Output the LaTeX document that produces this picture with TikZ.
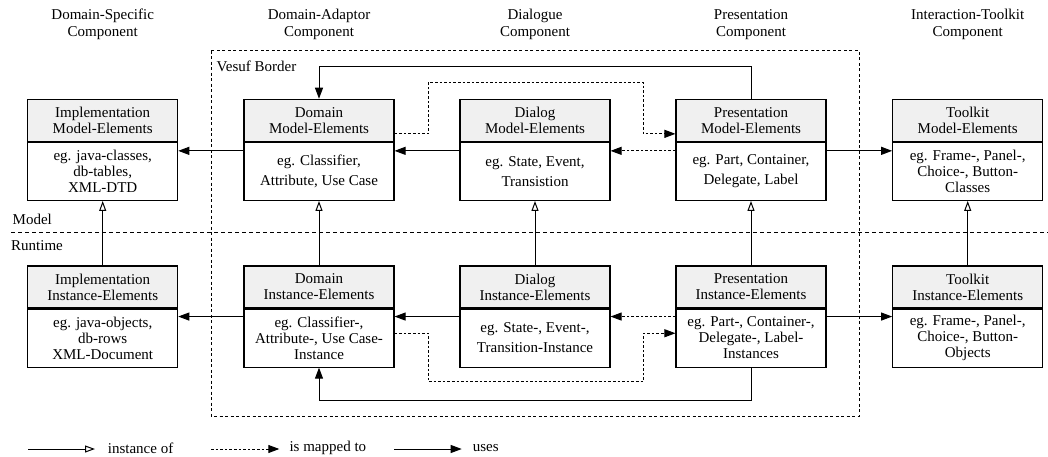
\documentclass[tikz,border=0pt]{standalone}
\usepackage{fontspec}
\setmainfont{Liberation Serif}
\usetikzlibrary{arrows.meta,calc}
\newcommand\fthree{\fontsize{15}{16}\selectfont}
\newcommand\ftwo{\fontsize{15}{20}\selectfont}
\begin{document}
\begin{tikzpicture}[x=1pt,y=-1pt,
  hdr/.style={draw,line width=1.1pt,fill=gray!12,minimum width=150pt,minimum height=42pt,inner sep=0pt,align=center,font=\fthree},
  bdy/.style={draw,line width=1.1pt,fill=white,minimum width=150pt,minimum height=58pt,inner sep=0pt,align=center,anchor=north,font=\fthree},
  bdytwo/.style={bdy,font=\ftwo},
  lbl/.style={inner sep=0pt,font=\fthree},
  colhd/.style={inner sep=0pt,align=center,font={\fontsize{15}{17}\selectfont}},
  uses/.style={line width=1pt,-{Triangle[length=11pt,width=8pt]}},
  inst/.style={line width=1pt,-{Triangle[open,length=10pt,width=7pt,line width=1pt]}},
  mapto/.style={line width=1pt,dash pattern=on 2.6pt off 2pt,-{Triangle[length=11pt,width=8pt]}},
  sepline/.style={line width=1pt,dash pattern=on 4pt off 3pt},
  border/.style={line width=1pt,dash pattern=on 3pt off 2.5pt}
]
\useasboundingbox (0,0) rectangle (1048,457);

% column headers
\node[colhd] (ch1) at (102.7,24.5) {Domain-Specific\\Component};
\node[colhd] (ch2) at (319,24.5) {Domain-Adaptor\\Component};
\node[colhd] (ch3) at (535,24.5) {Dialogue\\Component};
\node[colhd] (ch4) at (751,24.5) {Presentation\\Component};
\node[colhd] (ch5) at (967.7,24.5) {Interaction-Toolkit\\Component};

% Vesuf border
\draw[border] (211,50.7) rectangle (859.3,416);
\node[lbl,anchor=west] (vb) at (216.5,66) {Vesuf Border};

% Model / Runtime separator
\draw[sepline] (11,232.7) -- (1048,232.7);
\node[lbl,anchor=west] (mdl) at (12.5,219.5) {Model};
\node[lbl,anchor=west] (rt) at (11,246) {Runtime};

% model row
\node[hdr] (impM) at (102.7,120.3) {Implementation\\Model-Elements};
\node[bdy] (impMb) at (impM.south) {eg. java-classes,\\db-tables,\\XML-DTD};
\node[hdr] (domM) at (319,120.3) {Domain\\Model-Elements};
\node[bdytwo] (domMb) at (domM.south) {eg. Classifier,\\Attribute, Use Case};
\node[hdr] (dlgM) at (535,120.3) {Dialog\\Model-Elements};
\node[bdytwo] (dlgMb) at (dlgM.south) {eg. State, Event,\\Transistion};
\node[hdr] (preM) at (751,120.3) {Presentation\\Model-Elements};
\node[bdytwo] (preMb) at (preM.south) {eg. Part, Container,\\Delegate, Label};
\node[hdr] (tkM) at (967.7,120.3) {Toolkit\\Model-Elements};
\node[bdy] (tkMb) at (tkM.south) {eg. Frame-, Panel-,\\Choice-, Button-\\Classes};

% instance row
\node[hdr] (impI) at (102.7,287) {Implementation\\Instance-Elements};
\node[bdy] (impIb) at (impI.south) {eg. java-objects,\\db-rows\\XML-Document};
\node[hdr] (domI) at (319,287) {Domain\\Instance-Elements};
\node[bdy] (domIb) at (domI.south) {eg. Classifier-,\\Attribute-, Use Case-\\Instance};
\node[hdr] (dlgI) at (535,287) {Dialog\\Instance-Elements};
\node[bdytwo] (dlgIb) at (dlgI.south) {eg. State-, Event-,\\Transition-Instance};
\node[hdr] (preI) at (751,287) {Presentation\\Instance-Elements};
\node[bdy] (preIb) at (preI.south) {eg. Part-, Container-,\\Delegate-, Label-\\Instances};
\node[hdr] (tkI) at (967.7,287) {Toolkit\\Instance-Elements};
\node[bdy] (tkIb) at (tkI.south) {eg. Frame-, Panel-,\\Choice-, Button-\\Objects};

% model row connectors
\draw[uses] ([yshift=-9pt]domMb.north west) -- ([yshift=-9pt]impMb.north east);
\draw[uses] ([yshift=-9pt]dlgMb.north west) -- ([yshift=-9pt]domMb.north east);
\draw[mapto] ([yshift=-9pt]preMb.north west) -- ([yshift=-9pt]dlgMb.north east);
\draw[uses] ([yshift=-9pt]preMb.north east) -- ([yshift=-9pt]tkMb.north west);
\draw[mapto] ([yshift=8pt]domMb.north east) -- ++(33.7,0) |- (643.3,82.3) |- ([yshift=8pt]preMb.north west);
\draw[uses] (preM.north) -- ++(0,-32.6) -| (domM.north);

% instance-of connectors
\draw[inst] (impI.north) -- (impMb.south);
\draw[inst] (domI.north) -- (domMb.south);
\draw[inst] (dlgI.north) -- (dlgMb.south);
\draw[inst] (preI.north) -- (preMb.south);
\draw[inst] (tkI.north) -- (tkMb.south);

% instance row connectors
\draw[uses] ([yshift=-8pt]domIb.north west) -- ([yshift=-8pt]impIb.north east);
\draw[uses] ([yshift=-8pt]dlgIb.north west) -- ([yshift=-8pt]domIb.north east);
\draw[mapto] ([yshift=-8pt]preIb.north west) -- ([yshift=-8pt]dlgIb.north east);
\draw[uses] ([yshift=-8pt]preIb.north east) -- ([yshift=-8pt]tkIb.north west);
\draw[mapto] ([yshift=-24.7pt]domIb.north east) -- ++(33.7,0) |- (643.3,381.7) |- ([yshift=-24.7pt]preIb.north west);
\draw[uses] (preIb.south) -- ++(0,33) -| (domIb.south);

% legend
\coordinate (l1a) at (28.3,449); \coordinate (l1b) at (95,449);
\coordinate (l2a) at (211,449); \coordinate (l2b) at (279.3,449);
\coordinate (l3a) at (394,449); \coordinate (l3b) at (461.7,449);
\draw[inst] (l1a) -- (l1b);
\node[lbl,anchor=west] (t1) at (107.7,448) {instance of};
\draw[mapto] (l2a) -- (l2b);
\node[lbl,anchor=west] (t2) at (289.3,448) {is mapped to};
\draw[uses] (l3a) -- (l3b);
\node[lbl,anchor=west] (t3) at (472.7,448) {uses};
\end{tikzpicture}
\end{document}
